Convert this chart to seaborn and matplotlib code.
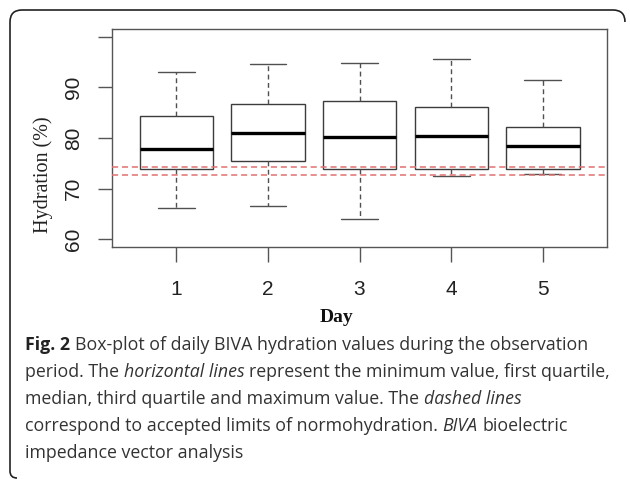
import matplotlib
matplotlib.use("Agg")
import matplotlib.pyplot as plt
from matplotlib.path import Path
from matplotlib.patches import PathPatch
import seaborn as sns
import pandas as pd

# five-number summaries (min, Q1, median, Q3, max)
days = ["1", "2", "3", "4", "5"]
day_min = [66.2, 66.6, 64.0, 72.5, 72.9]
day_q1 = [73.8, 75.5, 73.9, 73.8, 73.8]
day_med = [77.9, 81.0, 80.2, 80.4, 78.5]
day_q3 = [84.4, 86.7, 87.3, 86.2, 82.2]
day_max = [93.1, 94.5, 94.8, 95.5, 91.4]

# normohydration limits (dashed red lines)
limits = [72.7, 74.2]

yticks = [60, 70, 80, 90, 100]
ytick_labels = ["60", "70", "80", "90", ""]

# caption, one list of (text, style) runs per line
caption = [
    [("Fig. 2", "bold"), (" Box-plot of daily BIVA hydration values during the observation", "normal")],
    [("period. The ", "normal"), ("horizontal lines", "italic"),
     (" represent the minimum value, first quartile,", "normal")],
    [("median, third quartile and maximum value. The ", "normal"), ("dashed lines", "italic")],
    [("correspond to accepted limits of normohydration. ", "normal"), ("BIVA", "italic"),
     (" bioelectric", "normal")],
    [("impedance vector analysis", "normal")],
]

rows = []
for i, d in enumerate(days):
    for v in (day_min[i], day_q1[i], day_med[i], day_q3[i], day_max[i]):
        rows.append({"day": d, "hydration": v})
df = pd.DataFrame(rows)

sns.set_style("white")
plt.rcParams["font.family"] = ["Liberation Sans", "DejaVu Sans"]

W, H = 630, 479
fig = plt.figure(figsize=(6.3, 4.79), dpi=100)
ax = fig.add_axes([112 / W, 1 - 247 / H, (607 - 112) / W, (247 - 29) / H])

edge = "#3c3c3c"
sns.boxplot(data=df, x="day", y="hydration", order=days, ax=ax,
            color="white", saturation=1, width=0.8, whis=(0, 100),
            linecolor=edge, linewidth=1.0, showfliers=False,
            medianprops={"color": "black", "linewidth": 2.4},
            whiskerprops={"linestyle": (0, (3.5, 2.5)), "color": "#505050"},
            capprops={"color": "#505050"})

for lim in limits:
    ax.axhline(lim, color="#e07070", linestyle=(0, (4, 2.5)), linewidth=1.1, zorder=3)

ax.set_xlim(-0.7, 4.7)
ax.set_ylim(58.5, 101.5)
ax.set_yticks(yticks)
ax.set_yticklabels(ytick_labels)
ax.set_xlabel("")
ax.set_ylabel("")
for s in ax.spines.values():
    s.set_visible(True)
    s.set_color("#555555")
    s.set_linewidth(1.0)
ax.tick_params(axis="x", length=10.5, width=1.0, color="#555555", pad=13,
               labelsize=15, labelcolor="#222222", bottom=True)
ax.tick_params(axis="y", length=10, width=1.0, color="#555555", pad=11,
               labelsize=15, labelcolor="#222222", left=True)
for t in ax.get_yticklabels():
    t.set_rotation(90)
    t.set_va("center")

fig.text(43 / W, 1 - 175 / H, "Hydration (%)", rotation=90, ha="center", va="center",
         family="Liberation Serif", fontsize=14.5, color="#222222")
fig.text(336 / W, 1 - 318 / H, "Day", ha="center", va="center",
         family="Liberation Serif", weight="bold", fontsize=14, color="#111111")

# caption: draw runs one after another, measuring each piece
renderer = fig.canvas.get_renderer()
cap_size = 12.8
styles = {
    "normal": dict(family="Open Sans", fontsize=cap_size, color="#333333"),
    "bold": dict(family="Open Sans", fontsize=cap_size, color="#222222", weight="bold"),
    "italic": dict(family="Open Sans", fontsize=cap_size, color="#333333", style="italic"),
}


def text_width(s, st):
    t = fig.text(0, 0, s, **styles[st])
    w = t.get_window_extent(renderer).width
    t.remove()
    return w


space_w = {st: text_width("x x", st) - text_width("xx", st) for st in styles}

baselines = [350, 377, 404, 431, 458]
for runs, yb in zip(caption, baselines):
    x = 25.0
    for s, st in runs:
        core = s.strip(" ")
        x += (len(s) - len(s.lstrip(" "))) * space_w[st]
        t = fig.text(x / W, 1 - yb / H, core, ha="left", va="baseline", **styles[st])
        x += t.get_window_extent(renderer).width
        x += (len(s) - len(s.rstrip(" "))) * space_w[st]


# rounded frame around figure + caption (left and top sides)
def px(x, y):
    return (x / W, 1 - y / H)


verts = [px(17, 478), px(10, 478), px(10, 471), px(10, 22), px(10, 10), px(22, 10),
         px(613, 10), px(625, 10), px(625, 22)]
codes = [Path.MOVETO, Path.CURVE3, Path.CURVE3, Path.LINETO, Path.CURVE3, Path.CURVE3,
         Path.LINETO, Path.CURVE3, Path.CURVE3]
frame = PathPatch(Path(verts, codes), fill=False, edgecolor="#222222", linewidth=1.2,
                  transform=fig.transFigure)
fig.patches.append(frame)

fig.savefig("out.png", dpi=100)
plt.close(fig)
